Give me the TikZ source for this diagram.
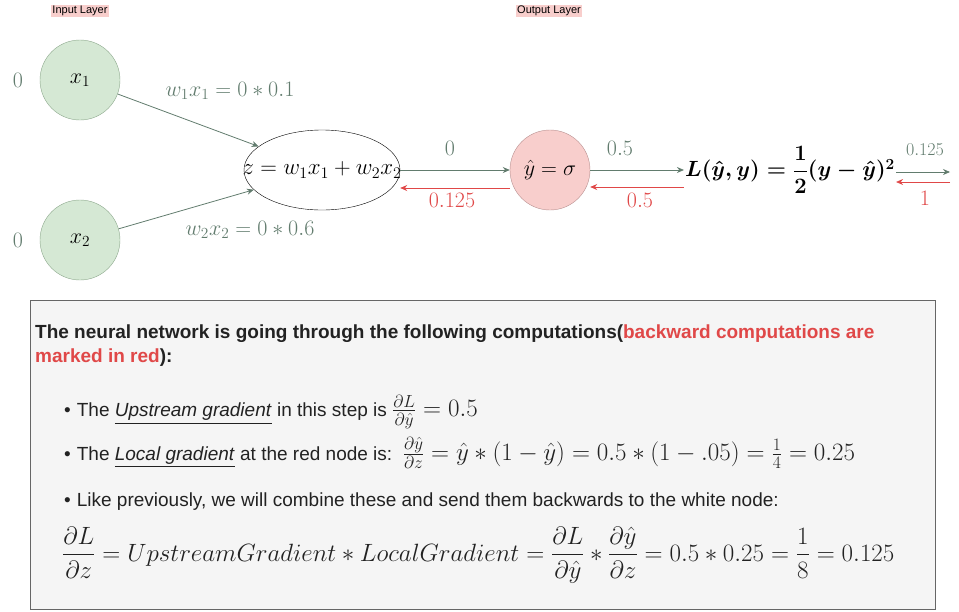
\RequirePackage{fix-cm}
\documentclass[tikz,border=0pt]{standalone}
\usepackage{fontspec}
\setsansfont{Liberation Sans}
\usepackage{amsmath}
\usetikzlibrary{arrows.meta, positioning, shapes.geometric}
\definecolor{nodeGreen}{HTML}{D5E8D4}
\definecolor{nodeGreenD}{HTML}{8CA88C}
\definecolor{nodeRed}{HTML}{F8CECC}
\definecolor{nodeRedD}{HTML}{B89090}
\definecolor{fwdGray}{HTML}{627C6E}
\definecolor{backRed}{HTML}{E04848}
\definecolor{tagPink}{HTML}{F8CECC}
\definecolor{panelGray}{HTML}{F5F5F5}
\definecolor{panelLine}{HTML}{666666}
\definecolor{bodyInk}{HTML}{222222}
\newcommand{\bigmath}[1]{{\fontsize{25}{28}\selectfont$#1$}}
\tikzset{
  fwd/.style={-{Stealth[length=7pt, width=6pt]}, fwdGray, line width=0.8pt},
  bwd/.style={-{Stealth[length=7pt, width=6pt]}, backRed, line width=0.8pt},
  inNode/.style={circle, draw=nodeGreenD, fill=nodeGreen, minimum size=80pt,
                 inner sep=0pt, font=\fontsize{22}{24}\selectfont},
  outNode/.style={circle, draw=nodeRedD, fill=nodeRed, minimum size=80pt,
                  inner sep=0pt, font=\fontsize{22}{24}\selectfont},
  sumNode/.style={ellipse, draw=black, fill=white, minimum width=156pt,
                  minimum height=80pt, inner sep=0pt, font=\fontsize{23}{24}\selectfont},
  layerTag/.style={fill=tagPink, inner sep=1.5pt,
                   font=\sffamily\fontsize{11}{12}\selectfont},
  gLbl/.style={text=fwdGray, font=\fontsize{22}{24}\selectfont},
  rLbl/.style={text=backRed, font=\fontsize{22}{24}\selectfont},
  bodyTxt/.style={anchor=west, inner sep=0pt, text=bodyInk,
                  font=\sffamily\fontsize{19}{23}\selectfont},
}
\begin{document}
\begin{tikzpicture}[x=1pt, y=-1pt]
  \useasboundingbox (0,0) rectangle (959,611);
  % layer tags
  \node[layerTag] (inTag)  at (80,11)  {Input Layer};
  \node[layerTag] (outTag) at (549,11) {Output Layer};
  % network
  \node[inNode]  (x1) at (80,80)   {$x_1$};
  \node[inNode]  (x2) at (80,240)  {$x_2$};
  \node[gLbl] (x1val) at (18,80)  {$0$};
  \node[gLbl] (x2val) at (18,240) {$0$};
  \node[sumNode] (z)  at (322,170) {\makebox[0pt]{$z=w_1x_1+w_2x_2$}};
  \node[outNode] (yh) at (550,170) {$\hat{y}=\sigma$};
  \node[font=\fontsize{22}{24}\selectfont\boldmath, inner sep=1pt] (loss) at (790,170)
       {$L(\hat{y},y)=\dfrac{1}{2}(y-\hat{y})^2$};
  \coordinate (outEnd)  at (950,172);
  \coordinate (gradIn)  at (950,182);
  % forward
  \draw[fwd] (x1) -- (z);
  \draw[fwd] (x2) -- (z);
  \draw[fwd] (z) -- (yh);
  \draw[fwd] (yh) -- (loss);
  \draw[fwd] ([yshift=-2pt]loss.east) -- (outEnd);
  \node[gLbl] (l1) at (230,91)  {$w_1x_1=0*0.1$};
  \node[gLbl] (l2) at (250,230) {$w_2x_2=0*0.6$};
  \node[gLbl] (l3) at (450,148) {$0$};
  \node[gLbl] (l4) at (620,148) {$0.5$};
  \node[gLbl, font=\fontsize{18}{20}\selectfont] (l5) at (925,150) {$0.125$};
  % backward
  \draw[bwd] ([yshift=-18pt]yh.west) -- ([yshift=-18pt]z.east);
  \draw[bwd] ([yshift=-17pt]loss.west) -- ([yshift=-17pt]yh.east);
  \draw[bwd] (gradIn) -- ([yshift=-12pt]loss.east);
  \node[rLbl] (r1) at (452,200) {$0.125$};
  \node[rLbl] (r2) at (640,200) {$0.5$};
  \node[rLbl] (r3) at (925,198) {$1$};
  % explanation panel
  \draw[panelLine, fill=panelGray] (30,300) rectangle (935,609);
  \node[bodyTxt, anchor=north west, font=\sffamily\bfseries\fontsize{19}{24}\selectfont,
        align=left] (title) at (35,325)
       {The neural network is going through the following computations(\textcolor{backRed}{backward computations are}\\
        \textcolor{backRed}{marked in red}):};
  \node[bodyTxt] (b1) at (64,412) {\textbullet\hspace{6pt}The \underline{\textit{Upstream gradient}} in this step is \bigmath{\frac{\partial L}{\partial\hat{y}}=0.5}};
  \node[bodyTxt] (b2) at (64,453) {\textbullet\hspace{6pt}The \underline{\textit{Local gradient}} at the red node is:\ \ \bigmath{\frac{\partial\hat{y}}{\partial z}=\hat{y}*(1-\hat{y})=0.5*(1-.05)=\frac{1}{4}=0.25}};
  \node[bodyTxt] (b3) at (64,502) {\textbullet\hspace{6pt}Like previously, we will combine these and send them backwards to the white node:};
  \node[bodyTxt, font=\fontsize{25}{28}\selectfont] (eq) at (62,555)
       {$\displaystyle\frac{\partial L}{\partial z}=UpstreamGradient*LocalGradient=\frac{\partial L}{\partial\hat{y}}*\frac{\partial\hat{y}}{\partial z}=0.5*0.25=\frac{1}{8}=0.125$};
\end{tikzpicture}
\end{document}
